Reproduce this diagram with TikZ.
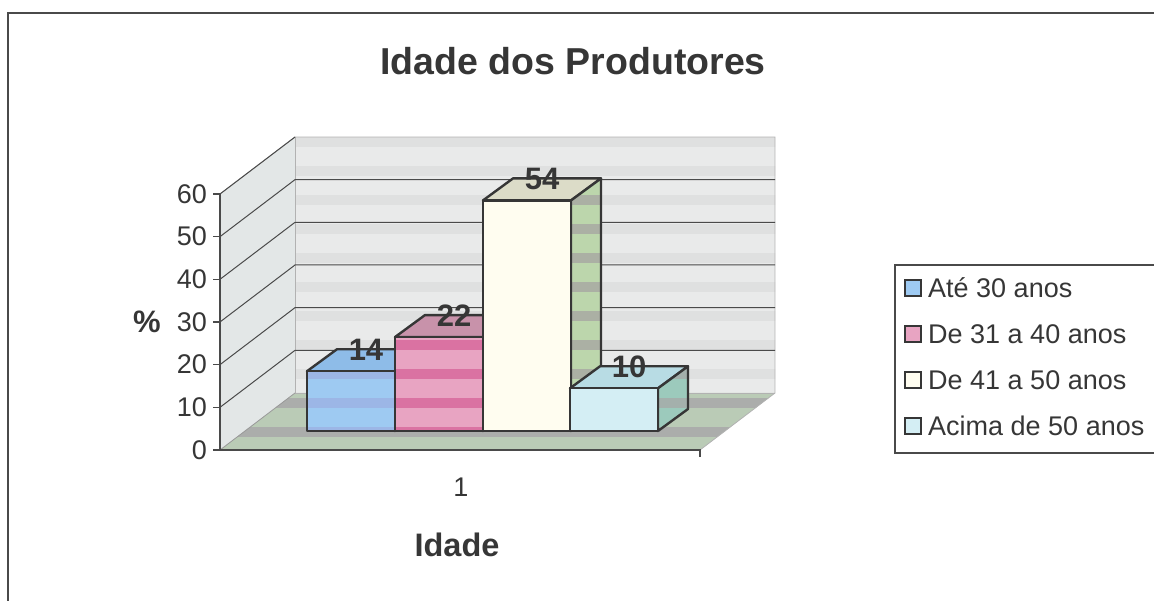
\documentclass[tikz,border=0pt]{standalone}
\usepackage{fontspec}
\setmainfont{Liberation Sans}
\usepackage{xcolor}
\usetikzlibrary{calc}
\definecolor{ink}{HTML}{363636}
\definecolor{grade}{HTML}{4A4A4A}
\definecolor{parede}{HTML}{E9EAEA}
\definecolor{paredeB}{HTML}{DFE0E0}
\definecolor{lado}{HTML}{E3E7E7}
\definecolor{chao}{HTML}{BACBB6}
\definecolor{chaoB}{HTML}{ABADAB}
\definecolor{azul}{HTML}{9ECAF2}
\definecolor{azulB}{HTML}{9CB6E6}
\definecolor{azulT}{HTML}{8EBCE8}
\definecolor{rosa}{HTML}{E8A4C2}
\definecolor{rosaB}{HTML}{DA72A2}
\definecolor{rosaT}{HTML}{C892AA}
\definecolor{creme}{HTML}{FFFDF0}
\definecolor{cremeT}{HTML}{DCDCC8}
\definecolor{verde}{HTML}{BCD6AC}
\definecolor{verdeB}{HTML}{ABB0A4}
\definecolor{ciano}{HTML}{D4EEF4}
\definecolor{cianoT}{HTML}{B8DCE4}
\definecolor{cianoS}{HTML}{9CCABC}
\definecolor{cianoSB}{HTML}{A4B0AC}
% faixas do scan
\newcommand{\listras}[1]{\foreach \k in {-8,...,4}{\fill[#1] (200,340+29*\k) rectangle (800,350+29*\k);}}
% barra: x, valor, frente, faixa, topo, lado, faixa do lado
\newcommand{\barra}[7]{%
  \pgfmathsetmacro{\topo}{431-4.27*#2}
  \filldraw[face,fill=#5] (#1,\topo) -- ++(30,-22) -- ++(88,0) -- ++(-30,22) -- cycle;
  \fill[#6] (#1+88,\topo) -- ++(30,-22) -- (#1+118,409) -- (#1+88,431) -- cycle;
  \begin{scope}
    \clip (#1+88,\topo) -- ++(30,-22) -- (#1+118,409) -- (#1+88,431) -- cycle;
    \listras{#7}
  \end{scope}
  \draw[face] (#1+88,\topo) -- ++(30,-22) -- (#1+118,409) -- (#1+88,431) -- cycle;
  \fill[#3] (#1,\topo) rectangle (#1+88,431);
  \begin{scope}
    \clip (#1,\topo) rectangle (#1+88,431);
    \listras{#4}
  \end{scope}
  \draw[face] (#1,\topo) rectangle (#1+88,431);
  \node[valor] (v#2) at (#1+59,\topo-21) {#2};
}

\begin{document}
\begin{tikzpicture}[x=1pt,y=-1pt]
		\tikzset{face/.style={draw=ink,line width=2.4pt,line join=round}}
		\tikzset{valor/.style={text=ink,font=\fontsize{31}{31}\selectfont\bfseries,inner sep=0pt}}
		\tikzset{rotulo/.style={text=ink,font=\fontsize{27}{27}\selectfont,inner sep=0pt}}
		\tikzset{marca/.style={draw=ink,line width=1.6pt}}
		\useasboundingbox (0,0) rectangle (1154,601);
		
		% moldura
		\draw[line width=2pt,grade] (8,601) -- (8,13) -- (1154,13);
		\node[text=ink,font=\fontsize{37.5}{37.5}\selectfont\bfseries] (T) at (573,61) {Idade dos Produtores};
		
		\coordinate (O) at (220,450);
		\coordinate (A) at (220,194);
		\coordinate (B) at (295,137);
		\coordinate (C) at (295,393);
		\coordinate (D) at (775,393);
		\coordinate (E) at (775,137);
		\coordinate (F) at (700,450);
		
		% paredes e chao
		\fill[parede] (B) rectangle (D);
		\begin{scope}
			\clip (B) rectangle (D);
			\listras{paredeB}
		\end{scope}
		\fill[lado] (O) -- (A) -- (B) -- (C) -- cycle;
		\fill[chao] (O) -- (C) -- (D) -- (F) -- cycle;
		\begin{scope}
			\clip (O) -- (C) -- (D) -- (F) -- cycle;
			\listras{chaoB}
		\end{scope}
		\draw[gray!60,line width=0.8pt] (A) -- (B) -- (E) -- (D) -- (F);
		\draw[gray!60,line width=0.8pt] (B) -- (C) -- (D);
		\draw[gray!80,line width=0.8pt] (O) -- (C);
		
		% grade e eixo
		\foreach \v in {1,...,5}
			\draw[grade,line width=1pt] (220,450-42.67*\v) -- (295,393-42.67*\v) -- (775,393-42.67*\v);
		\draw[grade,line width=1pt] (A) -- (B);
		\foreach \v in {0,...,6}{
			\draw[grade,line width=1.2pt] (213,450-42.67*\v) -- (220,450-42.67*\v);
			\node[rotulo,anchor=east] (y\v) at (207,450-42.67*\v) {\pgfmathparse{int(10*\v)}\pgfmathresult};
		}
		\draw[grade,line width=1.2pt] (A) -- (O) -- (F) -- (700,457);
		
		% barras
		\barra{307}{14}{azul}{azulB}{azulT}{azul}{azulB}
		\barra{395}{22}{rosa}{rosaB}{rosaT}{rosa}{rosaB}
		\barra{483}{54}{creme}{creme}{cremeT}{verde}{verdeB}
		\barra{570}{10}{ciano}{ciano}{cianoT}{cianoS}{cianoSB}
		
		\node[text=ink,font=\fontsize{31}{31}\selectfont\bfseries] (P) at (147,322) {\%};
		\node[rotulo] (X1) at (461,487) {1};
		\node[text=ink,font=\fontsize{32.5}{32.5}\selectfont\bfseries] (I) at (457,545) {Idade};
		
		% legenda
		\draw[grade,line width=1.2pt] (1154,265) -- (895,265) -- (895,453) -- (1154,453);
		\foreach \c/\t [count=\i] in {azul/Até 30 anos,rosa/De 31 a 40 anos,creme/De 41 a 50 anos,ciano/Acima de 50 anos}{
			\filldraw[marca,fill=\c] (905,288+46*\i-46-8) rectangle ++(16,16);
			\node[rotulo,anchor=west,font=\fontsize{27}{27}\selectfont] (L\i) at (928,288+46*\i-46) {\t};
		}
		\end{tikzpicture}
\end{document}
